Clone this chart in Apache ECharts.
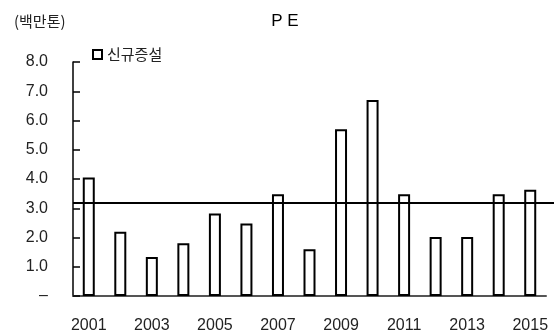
<!DOCTYPE html>
<html><head><meta charset="utf-8">
<script src="https://cdn.jsdelivr.net/npm/echarts@6/dist/echarts.min.js"></script>
<style>html,body{margin:0;padding:0;background:#fff}#c{width:554px;height:336px}</style>
</head><body><div id="c"></div>
<script>
const years = ['2001','2002','2003','2004','2005','2006','2007','2008','2009','2010','2011','2012','2013','2014','2015'];
const newCapacity = [4.05, 2.2, 1.33, 1.8, 2.82, 2.48, 3.48, 1.6, 5.7, 6.7, 3.48, 2.02, 2.02, 3.48, 3.63];
const averageLevel = 3.18;
const yTicks = ['–','1.0','2.0','3.0','4.0','5.0','6.0','7.0','8.0'];
const font = 'Liberation Sans, Arial, sans-serif';
const chart = echarts.init(document.getElementById('c'), null, {renderer:'canvas'});
chart.setOption({
  animation:false,
  title:[{text:'P E',left:280,textAlign:'center',top:8,textStyle:{fontFamily:font,fontSize:17,fontWeight:'normal',color:'#000'}},
         {text:'(백만톤)',left:9,top:9,textStyle:{fontFamily:'Noto Sans CJK KR',fontSize:15,fontWeight:'normal',color:'#222'}}],
  legend:{left:87,top:42,itemWidth:9,itemHeight:9,itemGap:7,icon:'rect',
    textStyle:{fontFamily:'Noto Sans CJK KR',fontSize:15,color:'#222'},
    data:[{name:'신규증설',itemStyle:{color:'#fff',borderColor:'#000',borderWidth:2}}]},
  grid:[{left:73,right:8,top:62,bottom:40},{left:73,right:0,top:62,bottom:40}],
  xAxis:[{type:'category',data:years,gridIndex:0,
    axisLine:{lineStyle:{color:'#555',width:2}},
    axisTick:{inside:true,length:5,lineStyle:{color:'#555',width:1.5}},
    axisLabel:{interval:1,margin:22,fontFamily:font,fontSize:16,color:'#222'}},
    {type:'value',gridIndex:1,min:0,max:1,show:false}],
  yAxis:[{type:'value',min:0,max:8,interval:1,gridIndex:0,splitLine:{show:false},
    axisLine:{show:true,lineStyle:{color:'#000',width:1.5}},
    axisTick:{show:true,inside:true,length:7,lineStyle:{color:'#000',width:1.5}},
    axisLabel:{margin:25,fontFamily:font,fontSize:16,color:'#222',formatter:(v)=>yTicks[Math.round(v)]}},
    {type:'value',min:0,max:8,gridIndex:1,show:false}],
  series:[{name:'신규증설',type:'bar',xAxisIndex:0,yAxisIndex:0,data:newCapacity,barWidth:12,
    itemStyle:{color:'#fff',borderColor:'#000',borderWidth:2}},
    {name:'avg',type:'line',xAxisIndex:1,yAxisIndex:1,data:[[0,averageLevel],[1,averageLevel]],symbol:'none',
     lineStyle:{color:'#000',width:2},z:5}]
});
</script></body></html>
